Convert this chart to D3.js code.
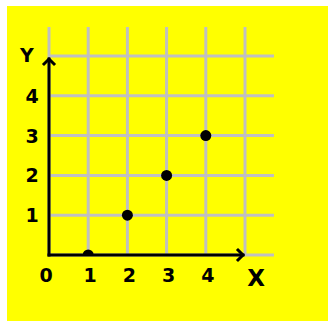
<!DOCTYPE html>
<html>
<head>
<meta charset="utf-8">
<script src="https://cdn.jsdelivr.net/npm/d3@7"></script>
<style>
  body { margin: 0; background: #fff; }
  svg { display: block; }
</style>
</head>
<body>
<script>
// data
const xValues = [1, 2, 3, 4];
const yValues = [0, 1, 2, 3];
const xTickLabels = [0, 1, 2, 3, 4];
const yTickLabels = [1, 2, 3, 4];
const gridSteps = [0, 1, 2, 3, 4, 5];

const width = 328, height = 321;

const svg = d3.select('body')
    .append('svg')
    .attr('width', width)
    .attr('height', height);

svg.append('rect')
    .attr('x', 7).attr('y', 6)
    .attr('width', width - 7).attr('height', height - 6)
    .attr('fill', '#ffff00');

// origin at (49,255), one unit ~39px
const x = d3.scaleLinear().domain([0, 5]).range([49, 245]);
const y = d3.scaleLinear().domain([0, 5]).range([255, 56]);

const grid = svg.append('g')
    .attr('stroke', '#c0c0c0')
    .attr('stroke-width', 3);

grid.selectAll('line.v')
    .data(gridSteps)
    .enter()
    .append('line')
    .attr('class', 'v')
    .attr('x1', d => x(d)).attr('x2', d => x(d))
    .attr('y1', 27).attr('y2', y(0));

grid.selectAll('line.h')
    .data(gridSteps)
    .enter()
    .append('line')
    .attr('class', 'h')
    .attr('x1', x(0)).attr('x2', 274)
    .attr('y1', d => y(d)).attr('y2', d => y(d));

// axes with arrow heads
const axes = svg.append('g')
    .attr('stroke', '#000')
    .attr('stroke-width', 3)
    .attr('fill', 'none')
    .attr('stroke-linecap', 'square');

axes.append('line')
    .attr('x1', x(0)).attr('y1', y(0))
    .attr('x2', x(0)).attr('y2', 59);
axes.append('path')
    .attr('d', `M${x(0) - 5},${64} L${x(0)},${59} L${x(0) + 5},${64}`);

axes.append('line')
    .attr('x1', x(0)).attr('y1', y(0))
    .attr('x2', 243).attr('y2', y(0));
axes.append('path')
    .attr('d', `M${238},${y(0) - 5} L${243},${y(0)} L${238},${y(0) + 5}`);

// points, clipped at the x axis
svg.append('clipPath').attr('id', 'plot')
    .append('rect')
    .attr('x', x(0)).attr('y', 0)
    .attr('width', width).attr('height', y(0));

svg.append('g')
    .attr('clip-path', 'url(#plot)')
    .selectAll('circle')
    .data(xValues)
    .enter()
    .append('circle')
    .attr('cx', d => x(d))
    .attr('cy', (d, i) => y(yValues[i]))
    .attr('r', 5.5)
    .attr('fill', '#000');

const labels = svg.append('g')
    .attr('font-family', 'DejaVu Sans, sans-serif')
    .attr('font-weight', 'bold')
    .attr('font-size', 19)
    .attr('fill', '#000')
    .attr('text-anchor', 'middle');

labels.selectAll('text.y')
    .data(yTickLabels)
    .enter()
    .append('text')
    .attr('class', 'y')
    .attr('x', 32)
    .attr('y', d => y(d) + 7)
    .text(d => d);

labels.selectAll('text.x')
    .data(xTickLabels)
    .enter()
    .append('text')
    .attr('class', 'x')
    .attr('x', d => x(d) + (d === 0 ? -3 : 2))
    .attr('y', 282)
    .text(d => d);

labels.append('text')
    .attr('x', 27).attr('y', 62)
    .text('Y');

labels.append('text')
    .attr('x', 256).attr('y', 286)
    .attr('font-size', 23)
    .text('X');
</script>
</body>
</html>
